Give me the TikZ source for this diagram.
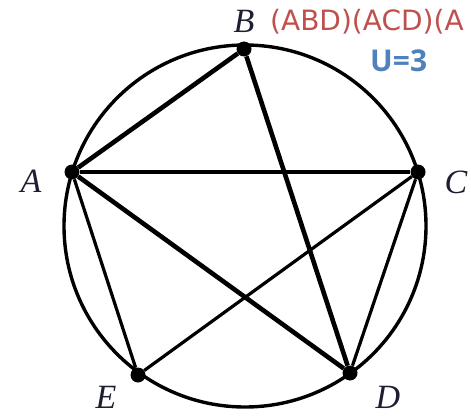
\documentclass[tikz,border=0pt]{standalone}
\usepackage{fontspec}
\setmainfont{Liberation Serif}
\newfontfamily\notefont{Open Sans}
\newfontfamily\redfont{DejaVu Sans}
\definecolor{notered}{RGB}{192,80,77}
\definecolor{noteblue}{RGB}{79,129,189}
\definecolor{lblcol}{RGB}{30,30,50}
\begin{document}
\begin{tikzpicture}[x=1pt,y=-1pt,
  vtx/.style={circle,fill=black,inner sep=0pt,minimum size=15pt},
  lbl/.style={font=\fontsize{34}{34}\selectfont\itshape,text=lblcol,inner sep=0pt},
  thick edge/.style={line width=4.6pt},
  thin edge/.style={line width=3.2pt}]
\useasboundingbox (0,0) rectangle (471,417);
\begin{scope}
\clip (0,0) rectangle (471,417);
\draw[line width=3.4pt] (245,226) circle (181);
\node[vtx] (A) at (72,172) {};
\node[vtx] (B) at (244,49) {};
\node[vtx] (C) at (418,172) {};
\node[vtx] (D) at (350,373) {};
\node[vtx] (E) at (138,375) {};
\draw[thick edge] (A) -- (B);
\draw[thick edge] (A) -- (C);
\draw[thick edge] (A) -- (D);
\draw[thick edge] (B) -- (D);
\draw[thin edge] (A) -- (E);
\draw[thin edge] (C) -- (E);
\draw[thin edge] (C) -- (D);
\node[lbl] (lA) at (31,181) {A};
\node[lbl] (lB) at (244,21) {B};
\node[lbl] (lC) at (456,182) {C};
\node[lbl] (lD) at (388,397) {D};
\node[lbl] (lE) at (106,397) {E};
\node[anchor=west,inner sep=0pt,text=notered,font=\redfont\fontsize{28}{28}\selectfont] (red) at (270,22) {(ABD)(ACD)(A};
\node[anchor=west,inner sep=0pt,text=noteblue,font=\notefont\bfseries\fontsize{30}{30}\selectfont] (blue) at (370,61) {U=3};
\end{scope}
\end{tikzpicture}
\end{document}
